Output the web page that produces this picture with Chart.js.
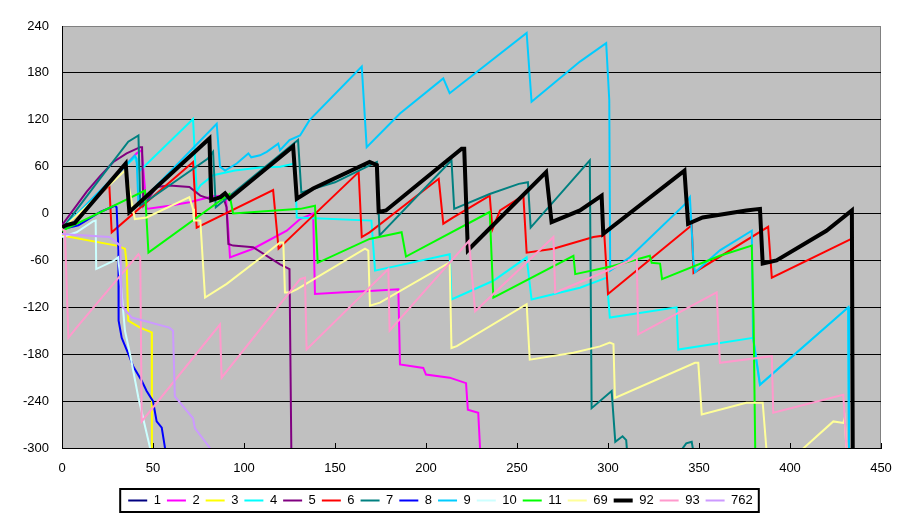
<!DOCTYPE html>
<html>
<head>
<meta charset="utf-8">
<script src="https://cdn.jsdelivr.net/npm/chart.js@4.4.0/dist/chart.umd.min.js"></script>
<style>
html, body { margin: 0; padding: 0; background: #fff; }
</style>
</head>
<body>
<canvas id="chart" width="910" height="523"></canvas>
<script>
// ========== DATA (x, value) ==========
const labels = ["1", "2", "3", "4", "5", "6", "7", "8", "9", "10", "11", "69", "92", "93", "762"];
const colors = ["#000080", "#ff00ff", "#ffff00", "#00ffff", "#800080", "#ff0000", "#008080", "#0000ff",
    "#00ccff", "#ccffff", "#00ff00", "#ffff99", "#000000", "#ff99cc", "#cc99ff"];

const s1 = [[0, -20], [2, -18]];
const s2 = [[0, -18], [17, 15], [41, 77], [43.8, 81], [46.5, 6], [59, 10], [70, 14.5], [83, 22], [90, 23], [91.4, -22],
    [92.3, -56], [105, -45], [123.5, -22], [130.8, -7], [138, 0], [139, -103], [152.7, -101], [169, -99], [184.8, -97],
    [185.7, -193], [198.5, -197.5], [200, -206], [213, -210], [222, -217], [223, -251], [228.7, -255], [229.7, -300], [230, -320]];
const s3 = [[0, -28], [30, -41], [34.6, -45], [35.5, -63], [36.4, -137], [42.9, -146], [49.3, -152], [49.4, -300], [49.5, -320]];
const s4 = [[0, -20], [35.5, 62], [40, 72], [42.9, 55], [72, 121], [74, 28], [76, 36], [83, 49], [95, 55], [108.8, 59],
    [119.8, 60], [128, 64], [129, -5], [170, -9], [172, -73], [213, -52], [214, -110], [237, -86], [255.3, -56], [258, -110],
    [284.6, -95], [299.3, -82], [301, -133], [337.7, -120], [338.6, -174], [379.8, -159], [383.5, -219], [432, -120],
    [432.4, -300], [432.5, -320]];
const s5 = [[0, -15], [13.6, 28], [20.9, 48], [28.2, 66], [35.5, 77], [42.9, 85], [44, 85], [44.7, 10], [52, 34], [59, 36],
    [70, 34], [76, 23], [81, 19], [88.6, 21], [90.4, 8], [91.4, -39], [94, -41], [105, -43], [119.8, -65], [125, -71],
    [126, -300], [126.2, -320]];
const s6 = [[0, -20], [26, 36], [27.3, -24], [72, 66], [74, -18], [116, 30], [119, -45], [163, 53], [164.7, -30], [169, -24],
    [207, 44.5], [209.5, -13], [215, -5], [235, 23], [236.5, -20], [240.7, 4], [253.5, 23], [255.3, -50], [270, -45],
    [292, -30], [298, -28], [300, -103], [346, -15], [347, -76], [388, -17], [390, -82], [434, -32]];
const s7 = [[0, -20], [21, 45], [36.4, 92], [42, 100], [43, 10], [80, 70], [83, 79], [84.5, 8], [129.7, 94], [131.5, 27],
    [150, 40], [171, 64], [173, 66], [174.5, -28], [214, 68], [215.5, 6], [235, 25], [251, 38], [256, 40], [257.5, -18],
    [290, 68], [291, -249], [302, -227], [304, -292], [308, -285], [310, -290], [311, -320], [335, -320], [343, -294],
    [346, -292], [348, -320]];
const s8 = [[0, -20], [9, -15], [21, 2], [29, 10], [30, 8], [31, -47], [31.1, -137], [32.8, -159], [37.4, -185], [39, -195],
    [43.8, -214], [46.5, -227], [50, -240], [52, -266], [54.8, -274], [56.6, -300], [57, -320]];
const s9 = [[0, -20], [40, 74], [41, 70], [42, 12], [85, 115], [86.8, 60], [89.6, 55], [96, 64], [102.4, 77], [104, 72],
    [108.8, 74.5], [112.5, 79], [118.8, 89.5], [119.8, 81], [125, 94], [130.8, 100], [136, 119.5], [164.7, 188],
    [167.4, 85], [185.7, 128], [209.5, 173], [213, 154], [255.3, 231], [258, 143], [284.6, 194.5], [299, 218],
    [300.7, 145], [301.2, -73], [312, -56], [342.3, 12], [345, 21], [346.9, -60], [347.8, -75], [361.5, -47], [379, -22],
    [379.7, -159], [383.5, -219], [432, -120], [432.4, -300], [432.5, -320]];
const s10 = [[0, -30], [8, -24], [17, -10], [18.5, -9], [18.8, -71], [28, -61], [30.8, -56], [31.8, -77], [34.6, -150],
    [37.4, -180], [42, -236], [48.4, -300], [49, -320]];
const s11 = [[0, -22], [45.6, 29.5], [47.5, -50], [92, 25], [94, 0], [131, 6], [139, 10], [140.5, -63], [169, -32.5],
    [186.6, -24], [189, -55], [235, 2], [237, -107.5], [281, -54], [282, -77.5], [302.7, -67], [323, -54], [324, -63],
    [328.6, -64], [329.7, -84], [361.5, -54], [379, -41], [380, -137], [381, -320]];
const s69 = [[0, -20], [34.6, 55], [36.3, 40], [40, -7], [46.5, -5], [70, 21], [72, 6], [72.5, -9], [76, -9], [78.6, -107.5],
    [90.5, -90], [110.6, -54], [119.8, -37], [121.6, -37], [122.5, -101], [125.3, -101], [129, -97], [166.5, -45],
    [168.3, -47.5], [169.2, -118], [174.7, -114], [213, -62.6], [214, -172], [216.9, -169.6], [255.3, -116], [257, -187],
    [281, -178], [295.6, -170], [301, -165], [303, -167], [303.8, -236], [347.8, -191], [349.6, -191], [351.5, -257],
    [376, -242], [385, -242], [387, -300], [387.2, -320], [398, -320], [423.8, -266], [429.3, -268], [430, -262],
    [431, -300], [431.2, -320]];
const s92 = [[0, -18], [2, -15], [7, -12], [35, 64], [37, 2], [81, 96], [82, 17], [87, 21], [89.6, 26], [92, 19], [127, 86],
    [129, 19], [138, 32], [169, 66], [173, 62], [174, 2], [178, 4], [219.6, 83], [221, 83], [223, -47], [266, 53], [269, -11],
    [284.6, 4], [296.5, 23], [297.4, -26], [342, 55], [344, -13], [352, -5], [376, 4], [383.5, 6], [385, -64], [392.6, -60],
    [420, -22], [434, 4], [434.5, -320]];
const s93 = [[0, -20], [1.6, -22], [3.5, -159], [8, -146], [42, -52], [43, -56], [43.8, -266], [86.8, -142], [87.7, -210],
    [130.8, -84], [133.5, -82], [134.4, -174], [179.3, -71], [180, -150], [223.6, -35], [227, -125], [270, -30], [271, -101],
    [295.6, -77], [315.8, -56], [316.6, -154.5], [359.7, -101], [361.5, -191], [390, -182.5], [390.8, -255], [429.3, -232],
    [431, -300], [431.2, -320]];
const s762 = [[0, -26], [26, -30], [32, -41], [32.8, -118], [38.3, -133], [59, -146], [61, -150], [62, -234], [72, -262],
    [73, -274.5], [81.3, -300], [82, -320]];

const seriesList = [s1, s2, s3, s4, s5, s6, s7, s8, s9, s10, s11, s69, s92, s93, s762];

const xMin = 0, xMax = 450, xStep = 50;
const yMin = -300, yMax = 240, yStep = 60;

// ========== PLUGINS ==========
const plotFrame = {
    id: "plotFrame",
    beforeDraw(chart) {
        const { ctx, chartArea: a } = chart;
        ctx.save();
        ctx.fillStyle = "#c0c0c0";
        ctx.fillRect(a.left, a.top, a.right - a.left, a.bottom - a.top);
        ctx.strokeStyle = "#808080";
        ctx.lineWidth = 1;
        ctx.strokeRect(a.left + 0.5, a.top + 0.5, a.right - a.left - 1, a.bottom - a.top);
        ctx.restore();
    },
    beforeDatasetsDraw(chart) {
        // short tick marks pointing up into the plot
        const { ctx, chartArea: a, scales } = chart;
        ctx.save();
        ctx.strokeStyle = "#000";
        ctx.lineWidth = 1;
        for (let v = xMin; v <= xMax; v += xStep) {
            const px = Math.round(scales.x.getPixelForValue(v)) + 0.5;
            ctx.beginPath();
            ctx.moveTo(px, a.bottom);
            ctx.lineTo(px, a.bottom - 5);
            ctx.stroke();
        }
        ctx.restore();
    },
    afterDraw(chart) {
        // box round the legend
        const boxes = chart.legend.legendHitBoxes;
        if (!boxes || !boxes.length) return;
        const left = Math.min(...boxes.map(b => b.left)) - 8;
        const right = Math.max(...boxes.map(b => b.left + b.width)) + 6;
        const top = boxes[0].top - 5;
        const bottom = boxes[0].top + boxes[0].height + 5;
        const ctx = chart.ctx;
        ctx.save();
        ctx.strokeStyle = "#000";
        ctx.lineWidth = 2;
        ctx.strokeRect(left, top, right - left, bottom - top);
        ctx.restore();
    }
};

// ========== CHART ==========
const ctx = document.getElementById("chart").getContext("2d");
const chart = new Chart(ctx, {
    type: "line",
    data: {
        datasets: seriesList.map((s, i) => ({
            label: labels[i],
            data: s.map(p => ({ x: p[0], y: p[1] })),
            borderColor: colors[i],
            backgroundColor: colors[i],
            borderWidth: labels[i] === "92" ? 4 : 2,
            pointRadius: 0,
            tension: 0,
            clip: 0,
            order: -i
        }))
    },
    plugins: [plotFrame],
    options: {
        responsive: false,
        animation: false,
        devicePixelRatio: 1,
        layout: { padding: { left: 0, right: 29, top: 26, bottom: 6 } },
        scales: {
            x: {
                type: "linear",
                min: xMin,
                max: xMax,
                ticks: { stepSize: xStep, color: "#000", font: { family: "Liberation Sans, Arial", size: 13 }, padding: 13 },
                grid: { display: false, drawTicks: false },
                border: { display: true, color: "#000", width: 1 },
                afterFit: s => { s.height = 40; }
            },
            y: {
                min: yMin,
                max: yMax,
                ticks: { stepSize: yStep, color: "#000", font: { family: "Liberation Sans, Arial", size: 13 }, padding: 13 },
                grid: {
                    color: c => (c.tick && c.tick.value === yMax ? "rgba(0,0,0,0)" : "#000"),
                    lineWidth: 1,
                    drawTicks: false
                },
                border: { display: true, color: "#000", width: 1 },
                afterFit: s => { s.width = 62; }
            }
        },
        plugins: {
            legend: {
                position: "bottom",
                labels: {
                    usePointStyle: true,
                    pointStyle: "line",
                    pointStyleWidth: 19,
                    color: "#000",
                    font: { family: "Liberation Sans, Arial", size: 13 },
                    padding: 6,
                    generateLabels: c => c.data.datasets.map((d, i) => ({
                        text: d.label,
                        strokeStyle: d.borderColor,
                        fillStyle: d.borderColor,
                        lineWidth: d.borderWidth,
                        pointStyle: "line",
                        datasetIndex: i
                    }))
                }
            },
            tooltip: { enabled: false }
        }
    }
});
</script>
</body>
</html>
